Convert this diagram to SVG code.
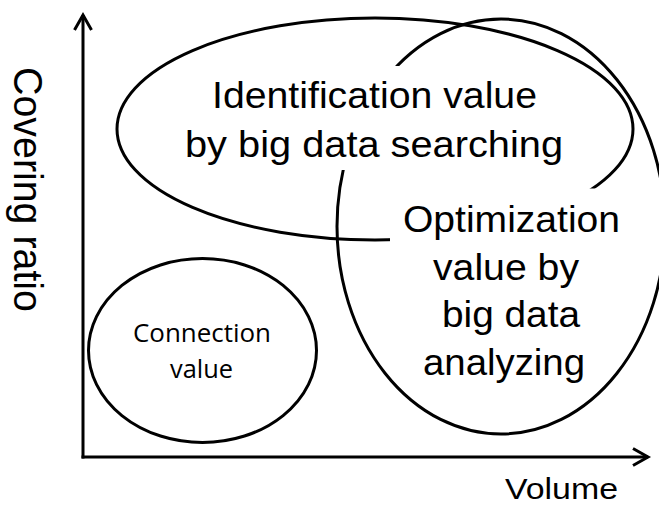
<svg xmlns="http://www.w3.org/2000/svg" width="659" height="506" viewBox="0 0 659 506">
  <style>
    .shape { fill: none; stroke: #000; stroke-width: 3; }
    .mask { fill: #fff; stroke: none; }
    .big { font-family: "Liberation Sans", Arial, sans-serif; font-size: 36px; fill: #000; text-anchor: middle; }
    .small { font-family: "Open Sans", "Noto Sans", sans-serif; font-size: 25px; fill: #000; text-anchor: middle; }
    .axislabel { font-family: "Liberation Sans", Arial, sans-serif; fill: #000; }
  </style>
  <defs>
    <marker id="arrow" markerUnits="userSpaceOnUse" markerWidth="22" markerHeight="22" refX="16" refY="10" orient="auto" overflow="visible">
      <path d="M1,1.5 L16,10 L1,18.5" fill="none" stroke="#000" stroke-width="3"/>
    </marker>
  </defs>
  <rect width="659" height="506" fill="#fff"/>

  <g id="connectors">
    <path d="M83,458.5 L83,15" class="shape" marker-end="url(#arrow)"/>
    <path d="M81.5,457 L648,457" class="shape" marker-end="url(#arrow)"/>
  </g>

  <g id="ellipses">
    <ellipse cx="375" cy="129" rx="258" ry="111" class="shape"/>
    <ellipse cx="501" cy="226.5" rx="164" ry="207.5" class="shape"/>
  </g>

  <g id="identification">
    <rect x="180" y="66" width="390" height="104" class="mask"/>
    <text class="big" x="374.5" y="108" textLength="325" lengthAdjust="spacingAndGlyphs">Identification value</text>
    <text class="big" x="374" y="157" textLength="378" lengthAdjust="spacingAndGlyphs">by big data searching</text>
  </g>

  <g id="optimization">
    <rect x="390" y="188.5" width="240" height="62" class="mask"/>
    <text class="big" x="511.5" y="232" textLength="217" lengthAdjust="spacingAndGlyphs">Optimization</text>
    <text class="big" x="506" y="280" textLength="146" lengthAdjust="spacingAndGlyphs">value by</text>
    <text class="big" x="511" y="327" textLength="138" lengthAdjust="spacingAndGlyphs">big data</text>
    <text class="big" x="504" y="375" textLength="162" lengthAdjust="spacingAndGlyphs">analyzing</text>
  </g>

  <g id="connection">
    <ellipse cx="202.5" cy="350.5" rx="114" ry="92" class="shape"/>
    <text class="small" x="202" y="342" textLength="138" lengthAdjust="spacingAndGlyphs">Connection</text>
    <text class="small" x="201.5" y="378" textLength="63" lengthAdjust="spacingAndGlyphs">value</text>
  </g>

  <g id="labels">
    <text class="axislabel" font-size="41" transform="translate(14,67) rotate(90)" textLength="245" lengthAdjust="spacingAndGlyphs">Covering ratio</text>
    <text class="axislabel" font-size="29" x="505" y="499" textLength="113" lengthAdjust="spacingAndGlyphs">Volume</text>
  </g>
</svg>
